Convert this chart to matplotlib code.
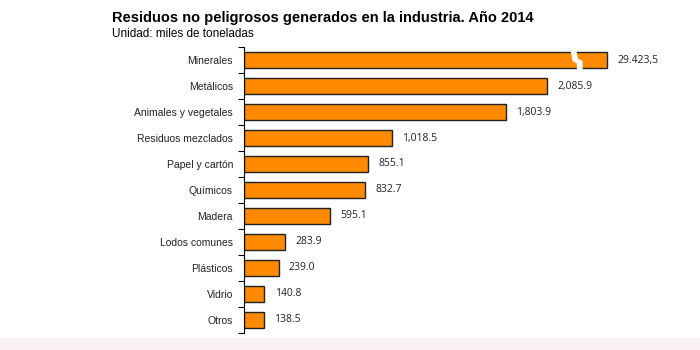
import numpy as np
import matplotlib.pyplot as plt
from matplotlib.patches import Rectangle, Polygon

# categories (top to bottom) and values, miles de toneladas
categorias = ['Minerales', 'Metálicos', 'Animales y vegetales', 'Residuos mezclados',
              'Papel y cartón', 'Químicos', 'Madera', 'Lodos comunes',
              'Plásticos', 'Vidrio', 'Otros']
valores = [29423.5, 2085.9, 1803.9, 1018.5, 855.1, 832.7, 595.1, 283.9, 239.0, 140.8, 138.5]
etiquetas = ['29.423,5', '2,085.9', '1,803.9', '1,018.5', '855.1', '832.7',
             '595.1', '283.9', '239.0', '140.8', '138.5']

# Minerales is drawn cut (axis break), shown at this length
largo_corte = 2500

fig = plt.figure(figsize=(7, 3.5), dpi=100)
fig.patches.append(Rectangle((0, 0), 1, 12 / 350, transform=fig.transFigure,
                             color='#fbf0f1', zorder=0))

ax = fig.add_axes([244 / 700, 17 / 350, 436 / 700, 286 / 350])

y = np.arange(len(categorias))
largos = [min(v, largo_corte) for v in valores]
ax.barh(y, largos, height=0.65, color='#ff8a00', edgecolor='#222222', linewidth=1)

for yi, l, t in zip(y, largos, etiquetas):
    ax.text(l + 70, yi, t, va='center', ha='left', fontsize=7.5,
            family='Open Sans', color='#222222')

# break mark on the Minerales bar
xb = 2255
pts = [(xb - 5, -0.42), (xb + 25, -0.42), (xb + 40, -0.02), (xb + 70, 0.05),
       (xb + 70, 0.42), (xb + 40, 0.42), (xb + 40, 0.12), (xb + 10, 0.02)]
ax.add_patch(Polygon(pts, closed=True, color='white', zorder=5))

ax.set_xlim(0, 3000)
ax.set_ylim(len(categorias) - 0.5, -0.5)
ax.set_yticks(y)
ax.set_yticklabels(categorias, fontsize=7.5, family='Liberation Sans', color='#222222')
ax.set_yticks(np.arange(-0.5, len(categorias), 1), minor=True)
ax.tick_params(axis='y', which='major', length=0, pad=8)
ax.tick_params(axis='y', which='minor', length=4, width=0.8, direction='out')
ax.set_xticks([])
for s in ['top', 'right', 'bottom']:
    ax.spines[s].set_visible(False)
ax.spines['left'].set_linewidth(0.8)

fig.text(112 / 700, 1 - 18 / 350, 'Residuos no peligrosos generados en la industria. Año 2014',
         fontsize=10.5, fontweight='bold', family='Liberation Sans', va='center')
fig.text(112 / 700, 1 - 34 / 350, 'Unidad: miles de toneladas',
         fontsize=8.5, family='Liberation Sans', va='center')

fig.savefig('out.png', dpi=100)
